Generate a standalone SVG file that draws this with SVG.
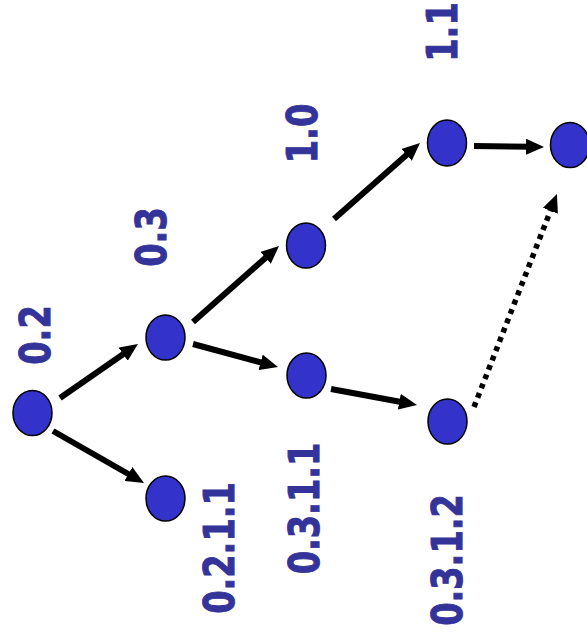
<svg xmlns="http://www.w3.org/2000/svg" width="587" height="637" viewBox="0 0 587 637">
<style>
.node{fill:#3333cc;stroke:#000;stroke-width:1.5}
.edge{stroke:#000;stroke-width:6;fill:none;marker-end:url(#ah)}
.dot{stroke:#000;stroke-width:5.5;fill:none;stroke-dasharray:5 5;marker-end:url(#ah2)}
.lbl{font-family:"DejaVu Sans",sans-serif;font-weight:bold;font-size:42px;fill:#333399;stroke:#333399;stroke-width:1;text-anchor:middle}
</style>
<defs>
<marker id="ah" markerUnits="userSpaceOnUse" markerWidth="18" markerHeight="16" refX="6" refY="8" orient="auto" viewBox="0 0 18 16">
<path d="M0,0 L18,8 L0,16 z" fill="#000"/>
</marker>
<marker id="ah2" markerUnits="userSpaceOnUse" markerWidth="18" markerHeight="16" refX="6" refY="8" orient="auto" viewBox="0 0 18 16">
<path d="M0,0 L18,8 L0,16 z" fill="#000"/>
</marker>
</defs>
<rect width="587" height="637" fill="#fff"/>
<g id="connectors">
<line class="edge" x1="60" y1="398" x2="128.1" y2="350.8"/>
<line class="edge" x1="53" y1="431" x2="133.6" y2="477"/>
<line class="edge" x1="193" y1="322" x2="270" y2="253.9"/>
<line class="edge" x1="193" y1="344" x2="266.4" y2="363.9"/>
<line class="edge" x1="334" y1="219" x2="411" y2="150.9"/>
<line class="edge" x1="474" y1="146" x2="532" y2="146.8"/>
<line class="edge" x1="331" y1="389" x2="405.2" y2="402.8"/>
<line class="dot" x1="474" y1="407" x2="552.6" y2="205.2"/>
</g>
<g id="n02"><ellipse class="node" cx="32.5" cy="413" rx="19.5" ry="22.5"/>
<text class="lbl" transform="translate(50,335) rotate(-90) scale(0.8,1)">0.2</text></g>
<g id="n03"><ellipse class="node" cx="165.5" cy="337.5" rx="19.5" ry="22.5"/>
<text class="lbl" transform="translate(166,237) rotate(-90) scale(0.8,1)">0.3</text></g>
<g id="n0211"><ellipse class="node" cx="165.5" cy="498.5" rx="19.5" ry="22.5"/>
<text class="lbl" transform="translate(234,548) rotate(-90) scale(0.8,1)">0.2.1.1</text></g>
<g id="n10"><ellipse class="node" cx="306" cy="245.5" rx="19.5" ry="22.5"/>
<text class="lbl" transform="translate(317,133.5) rotate(-90) scale(0.8,1)">1.0</text></g>
<g id="n0311"><ellipse class="node" cx="306.5" cy="375.5" rx="19.5" ry="22.5"/>
<text class="lbl" transform="translate(319,508.5) rotate(-90) scale(0.8,1)">0.3.1.1</text></g>
<g id="n11"><ellipse class="node" cx="447" cy="143" rx="19.5" ry="23"/>
<text class="lbl" transform="translate(457,32) rotate(-90) scale(0.8,1)">1.1</text></g>
<g id="nright"><ellipse class="node" cx="570" cy="145" rx="19.5" ry="22.5"/></g>
<g id="n0312"><ellipse class="node" cx="447.5" cy="421.5" rx="19.5" ry="22.5"/>
<text class="lbl" transform="translate(462,560) rotate(-90) scale(0.8,1)">0.3.1.2</text></g>
</svg>
